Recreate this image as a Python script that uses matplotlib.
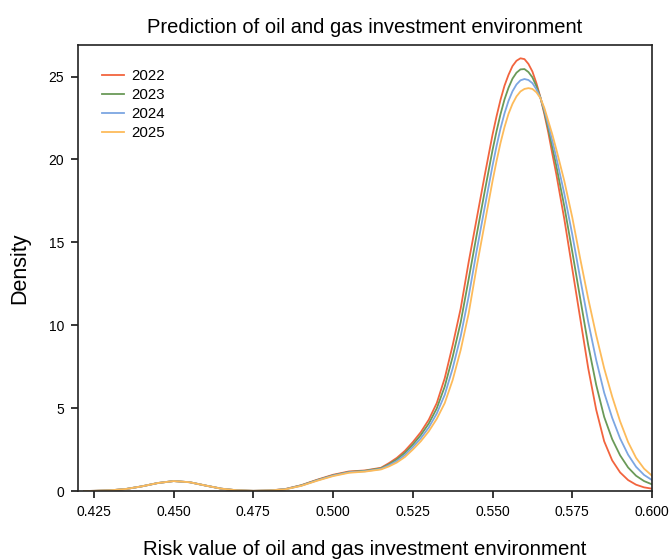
import numpy as np
import matplotlib
matplotlib.use("Agg")
import matplotlib.pyplot as plt
from matplotlib.ticker import FormatStrFormatter

plt.rcParams['font.family'] = ['Liberation Sans', 'DejaVu Sans']

# risk value grid (denser around the peak)
risk = [0.422, 0.425, 0.430, 0.435, 0.440, 0.445, 0.450, 0.455, 0.460, 0.465,
        0.470, 0.475, 0.480, 0.485, 0.490, 0.495, 0.500, 0.505, 0.510, 0.515,
        0.5175, 0.520, 0.5225, 0.525, 0.5275, 0.530, 0.5325, 0.535, 0.5375, 0.540,
        0.5425, 0.545, 0.5475, 0.550, 0.55125, 0.5525, 0.55375, 0.555, 0.55625, 0.5575,
        0.55875, 0.560, 0.56125, 0.5625, 0.56375, 0.565, 0.56625, 0.5675, 0.56875, 0.570,
        0.5725, 0.575, 0.5775, 0.580, 0.5825, 0.585, 0.5875, 0.590, 0.5925, 0.595,
        0.5975, 0.600]

# density per year
d2022 = [0.0, 0.01, 0.04, 0.12, 0.28, 0.48, 0.60, 0.53, 0.33, 0.14,
         0.04, 0.01, 0.03, 0.12, 0.35, 0.68, 0.98, 1.18, 1.24, 1.40,
         1.68, 2.00, 2.42, 2.95, 3.55, 4.30, 5.30, 6.80, 8.80, 11.0,
         13.8, 16.4, 19.0, 21.5, 22.6, 23.6, 24.45, 25.1, 25.63, 25.95,
         26.1, 26.05, 25.76, 25.3, 24.6, 23.75, 22.73, 21.6, 20.33, 19.1,
         16.4, 13.4, 10.4, 7.4, 4.9, 3.0, 1.85, 1.12, 0.66, 0.38,
         0.22, 0.14]
d2023 = [0.0, 0.01, 0.04, 0.12, 0.28, 0.48, 0.60, 0.53, 0.33, 0.14,
         0.04, 0.01, 0.03, 0.11, 0.34, 0.66, 0.95, 1.15, 1.22, 1.37,
         1.61, 1.91, 2.30, 2.80, 3.37, 4.07, 4.98, 6.30, 8.10, 10.17,
         12.77, 15.43, 18.03, 20.57, 21.7, 22.73, 23.62, 24.32, 24.87, 25.23,
         25.43, 25.45, 25.27, 24.95, 24.42, 23.73, 22.85, 21.83, 20.72, 19.6,
         17.17, 14.43, 11.6, 8.8, 6.4, 4.47, 3.13, 2.15, 1.42, 0.92,
         0.60, 0.40]
d2024 = [0.0, 0.01, 0.04, 0.12, 0.28, 0.48, 0.60, 0.53, 0.33, 0.14,
         0.04, 0.01, 0.03, 0.11, 0.32, 0.64, 0.93, 1.13, 1.19, 1.33,
         1.55, 1.81, 2.17, 2.65, 3.18, 3.83, 4.67, 5.80, 7.40, 9.33,
         11.73, 14.47, 17.07, 19.63, 20.8, 21.87, 22.78, 23.53, 24.11, 24.52,
         24.77, 24.85, 24.79, 24.6, 24.23, 23.72, 22.98, 22.07, 21.11, 20.1,
         17.93, 15.47, 12.8, 10.2, 7.9, 5.93, 4.42, 3.17, 2.19, 1.46,
         0.97, 0.66]
d2025 = [0.0, 0.01, 0.04, 0.12, 0.28, 0.48, 0.60, 0.53, 0.33, 0.14,
         0.04, 0.01, 0.03, 0.10, 0.31, 0.62, 0.90, 1.10, 1.17, 1.30,
         1.48, 1.72, 2.05, 2.50, 3.00, 3.60, 4.35, 5.30, 6.70, 8.50,
         10.7, 13.5, 16.1, 18.7, 19.9, 21.0, 21.95, 22.75, 23.35, 23.8,
         24.1, 24.25, 24.3, 24.25, 24.05, 23.7, 23.1, 22.3, 21.5, 20.6,
         18.7, 16.5, 14.0, 11.6, 9.4, 7.4, 5.7, 4.2, 2.95, 2.0,
         1.35, 0.92]

years = ['2022', '2023', '2024', '2025']
colors = ['#F2643E', '#6A9A58', '#7CA6E2', '#FDBB5A']

fig = plt.figure(figsize=(6.71, 5.6), dpi=100)
ax = fig.add_axes([0.1162, 0.1232, 0.8555, 0.7964])

for y, d, c in zip(years, [d2022, d2023, d2024, d2025], colors):
    ax.plot(risk, d, color=c, lw=1.3, label=y)

ax.set_xlim(0.42, 0.60)
ax.set_ylim(0, 26.9)
ax.set_xticks([0.425, 0.450, 0.475, 0.500, 0.525, 0.550, 0.575, 0.600])
ax.set_yticks([0, 5, 10, 15, 20, 25])
ax.xaxis.set_major_formatter(FormatStrFormatter('%.3f'))

for s in ax.spines.values():
    s.set_linewidth(1.2)
    s.set_color('#222222')
ax.tick_params(direction='out', length=5, width=1.1, labelsize=10, pad=5)

ax.set_title('Prediction of oil and gas investment environment', fontsize=14.5, pad=9)
ax.set_xlabel('Risk value of oil and gas investment environment', fontsize=14.7, labelpad=15)
ax.set_ylabel('Density', fontsize=15.5, labelpad=13)

ax.legend(loc='upper left', frameon=False, fontsize=10.8, handlelength=1.45,
          handletextpad=0.5, labelspacing=0.34, borderaxespad=1.2)

fig.savefig('out.png', dpi=100)
